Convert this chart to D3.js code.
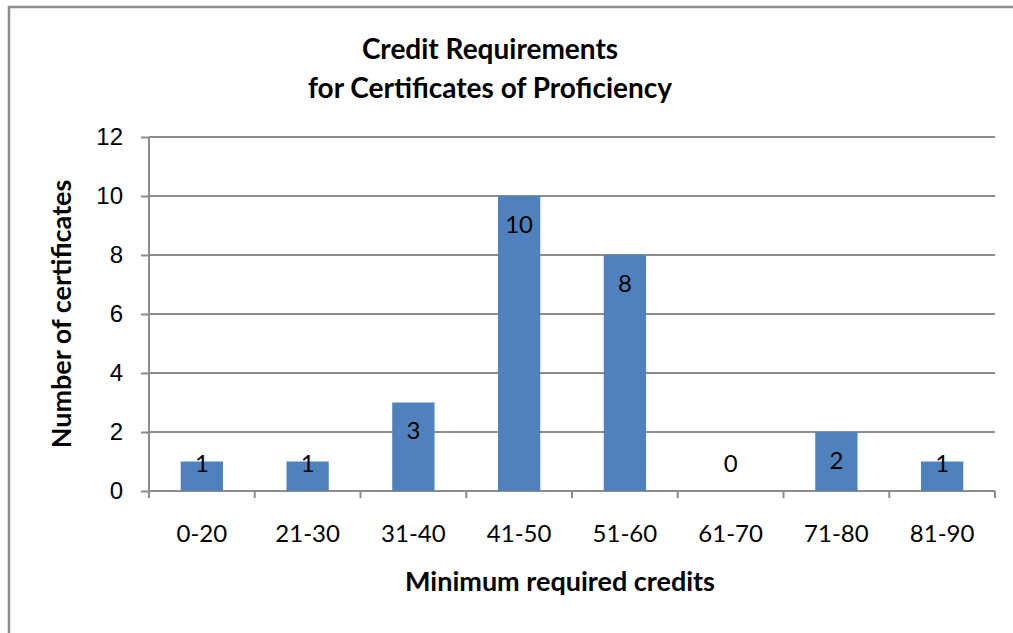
<!DOCTYPE html>
<html lang="en">
<head>
  <meta charset="UTF-8">
  <title>Credit Requirements for Certificates of Proficiency</title>
  <script src="https://d3js.org/d3.v7.min.js"></script>
  <style>
    body { margin: 0; background: #fff; }
    svg { display: block; font-family: Lato, "Open Sans", sans-serif; }
    .grid line, .axis line, .axis path { stroke: #8c8c8c; stroke-width: 2px; }
    .tick text { font-size: 24px; fill: #000; }
    .title { font-size: 28px; font-weight: bold; }
    .axis-title { font-size: 27px; font-weight: bold; }
    .value { font-size: 24px; fill: #000; }
  </style>
</head>
<body>

<svg width="1013" height="633"></svg>

<script>
  // chart data
  const categories = ["0-20", "21-30", "31-40", "41-50", "51-60", "61-70", "71-80", "81-90"];
  const counts = [1, 1, 3, 10, 8, 0, 2, 1];
  const yTicks = [0, 2, 4, 6, 8, 10, 12];

  const svg = d3.select("svg");

  // outer chart border (runs off the right and bottom edge)
  svg.append("rect")
    .attr("x", 9).attr("y", 7)
    .attr("width", 1100).attr("height", 700)
    .attr("fill", "none")
    .attr("stroke", "#8c8c8c")
    .attr("stroke-width", 2.5);

  const plotLeft = 149, plotRight = 995, plotTop = 137, plotBottom = 491;

  const x = d3.scaleBand()
    .domain(categories)
    .range([plotLeft, plotRight])
    .paddingInner(0.6)
    .paddingOuter(0.3);

  const y = d3.scaleLinear()
    .domain([0, 12])
    .range([plotBottom, plotTop]);

  // horizontal gridlines
  svg.append("g")
    .attr("class", "grid")
    .selectAll("line")
    .data(yTicks.filter(d => d > 0))
    .enter().append("line")
    .attr("x1", plotLeft).attr("x2", plotRight)
    .attr("y1", d => y(d)).attr("y2", d => y(d));

  // y axis
  const yAxis = svg.append("g")
    .attr("class", "axis")
    .attr("transform", `translate(${plotLeft},0)`)
    .call(d3.axisLeft(y).tickValues(yTicks).tickSize(8).tickPadding(18).tickSizeOuter(0));
  yAxis.select(".domain").attr("d", `M0,${plotBottom}V${plotTop}`);

  // x axis: baseline plus ticks at category boundaries
  const xAxis = svg.append("g").attr("class", "axis");
  xAxis.append("line")
    .attr("x1", plotLeft).attr("x2", plotRight)
    .attr("y1", plotBottom).attr("y2", plotBottom);
  const step = x.step();
  xAxis.selectAll(".bound")
    .data(d3.range(categories.length + 1))
    .enter().append("line")
    .attr("x1", i => plotLeft + i * step).attr("x2", i => plotLeft + i * step)
    .attr("y1", plotBottom).attr("y2", plotBottom + 7);
  xAxis.selectAll(".tick")
    .data(categories)
    .enter().append("g")
    .attr("class", "tick")
    .append("text")
    .attr("x", d => x(d) + x.bandwidth() / 2)
    .attr("y", 542)
    .attr("text-anchor", "middle")
    .text(d => d);

  // bars
  const data = categories.map((c, i) => ({ cat: c, value: counts[i] }));
  svg.selectAll(".bar")
    .data(data)
    .enter().append("rect")
    .attr("class", "bar")
    .attr("x", d => x(d.cat))
    .attr("y", d => y(d.value))
    .attr("width", x.bandwidth())
    .attr("height", d => plotBottom - y(d.value))
    .attr("fill", "#4f81bd");

  // value labels (inside end)
  svg.selectAll(".value")
    .data(data)
    .enter().append("text")
    .attr("class", "value")
    .attr("x", d => x(d.cat) + x.bandwidth() / 2)
    .attr("y", d => Math.min(y(d.value) + 28, plotBottom - 28))
    .attr("dy", "0.36em")
    .attr("text-anchor", "middle")
    .text(d => d.value);

  // titles
  const title = svg.append("text")
    .attr("class", "title")
    .attr("text-anchor", "middle");
  title.append("tspan").attr("x", 490).attr("y", 59).text("Credit Requirements");
  title.append("tspan").attr("x", 490).attr("y", 98).text("for Certificates of Proficiency");

  svg.append("text")
    .attr("class", "axis-title")
    .attr("x", 560).attr("y", 591)
    .attr("text-anchor", "middle")
    .text("Minimum required credits");

  svg.append("text")
    .attr("class", "axis-title")
    .attr("transform", `translate(71,${(plotTop + plotBottom) / 2}) rotate(-90)`)
    .attr("text-anchor", "middle")
    .text("Number of certificates");
</script>

</body>
</html>
